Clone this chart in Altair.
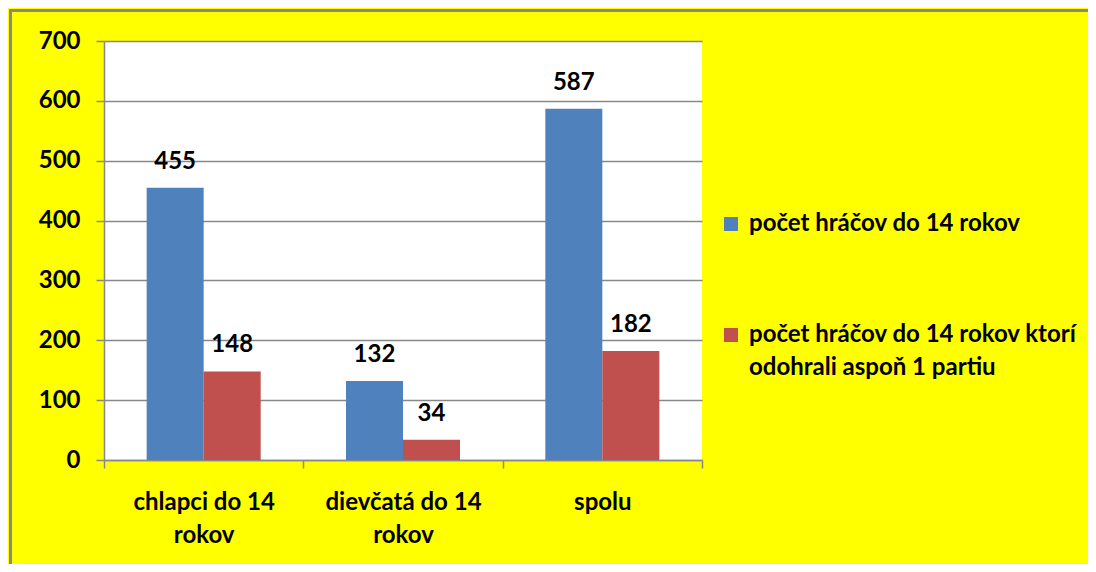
import altair as alt
import pandas as pd

categories = ["chlapci do 14|rokov", "dievčatá do 14|rokov", "spolu"]
series = ["počet hráčov do 14 rokov", "počet hráčov do 14 rokov ktorí|odohrali aspoň 1 partiu"]
values_all = [455, 132, 587]
values_played = [148, 34, 182]
y_ticks = [0, 100, 200, 300, 400, 500, 600, 700]
colors = ["#4F81BD", "#C0504D"]

rows = []
for c, a, b in zip(categories, values_all, values_played):
    rows.append({"cat": c, "series": series[0], "value": a})
    rows.append({"cat": c, "series": series[1], "value": b})
df = pd.DataFrame(rows)

FONT = "Lato"
FS = 24

x_enc = alt.X("cat:N", sort=categories, title=None,
              scale=alt.Scale(paddingInner=0, paddingOuter=0),
              axis=alt.Axis(labelExpr="split(datum.label, '|')", labelAngle=0,
                            labelLineHeight=33, labelPadding=22, tickBand="extent",
                            tickSize=8, tickColor="#888888", tickWidth=1.5,
                            domainColor="#888888", domainWidth=1.5, grid=False,
                            labelFont=FONT, labelFontSize=FS, labelFontWeight="bold",
                            labelColor="black", labelBaseline="top"))
xo_enc = alt.XOffset("series:N", sort=series,
                     scale=alt.Scale(paddingInner=0, paddingOuter=0.748))

base = alt.Chart(df)

bars = base.mark_bar().encode(
    x=x_enc,
    xOffset=xo_enc,
    y=alt.Y("value:Q", title=None,
            scale=alt.Scale(domain=[0, 700], nice=False),
            axis=alt.Axis(values=y_ticks, grid=True, gridColor="#888888", gridWidth=1.5,
                          tickSize=8, tickColor="#888888", tickWidth=1.5,
                          domainColor="#888888", domainWidth=1.5, labelPadding=16,
                          labelFont=FONT, labelFontSize=FS, labelFontWeight="bold",
                          labelColor="black")),
    color=alt.Color("series:N", sort=series,
                    scale=alt.Scale(domain=series, range=colors),
                    legend=alt.Legend(title=None, orient="none", legendX=615, legendY=171,
                                      symbolType="square", symbolSize=196,
                                      symbolStrokeWidth=0, labelOffset=6,
                                      labelExpr="split(datum.label, '|')",
                                      labelFont=FONT, labelFontSize=FS,
                                      labelFontWeight="bold", labelColor="black",
                                      labelLimit=600, rowPadding=87)),
)

labels = base.mark_text(font=FONT, fontSize=FS, fontWeight="bold", color="black",
                        baseline="alphabetic", dy=-19).encode(
    x=alt.X("cat:N", sort=categories),
    xOffset=alt.XOffset("series:N", sort=series),
    y="value:Q",
    text="value:Q",
)

edge = pd.DataFrame({"k": [0]})
left_edge = alt.Chart(edge).mark_rule(stroke="#888888", strokeWidth=3).encode(
    x=alt.value(-93.5), y=alt.value(-31), y2=alt.value(600))
top_edge = alt.Chart(edge).mark_rule(stroke="#888888", strokeWidth=3).encode(
    x=alt.value(-95), x2=alt.value(1100), y=alt.value(-30.5))

chart = alt.layer(bars, labels, left_edge, top_edge).properties(
    width=598, height=419,
    background="#FFFF00",
    padding={"left": 96, "top": 33, "right": 386, "bottom": 104},
    autosize=alt.AutoSizeParams(type="none"),
).configure(
    style={"guide-label": {"lineHeight": 33}}
).configure_view(fill="white", stroke=None)

chart.save("out.html", embed_options={"renderer": "svg", "actions": False})
